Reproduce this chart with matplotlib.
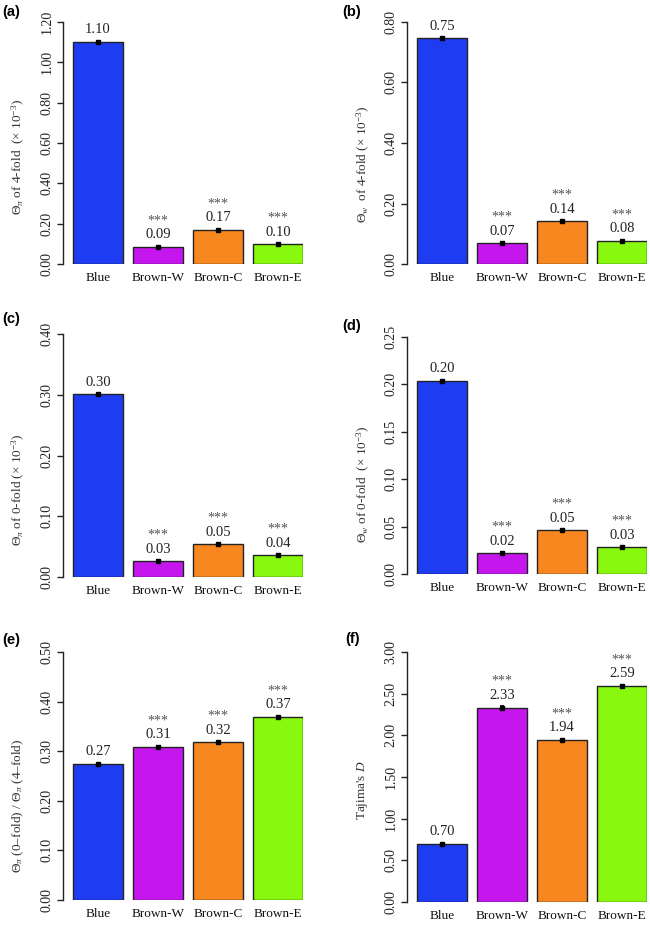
import matplotlib
matplotlib.use("Agg")
import matplotlib.pyplot as plt

plt.rcParams["font.family"] = ["Liberation Serif", "DejaVu Serif"]
plt.rcParams["mathtext.fontset"] = "custom"
plt.rcParams["mathtext.rm"] = "Liberation Serif"
plt.rcParams["mathtext.it"] = "Liberation Serif:italic"
plt.rcParams["mathtext.bf"] = "Liberation Serif:bold"

groups = ["Blue", "Brown-W", "Brown-C", "Brown-E"]
colors = ["#1E3CF2", "#C516EE", "#F8871F", "#88F90E"]

# panel values
pi_4fold = [1.103, 0.086, 0.171, 0.099]
pi_4fold_err = [0.004, 0.004, 0.004, 0.004]
w_4fold = [0.746, 0.068, 0.142, 0.077]
w_4fold_err = [0.003, 0.003, 0.003, 0.003]
pi_0fold = [0.301, 0.026, 0.054, 0.036]
pi_0fold_err = [0.0015, 0.0015, 0.0015, 0.0015]
w_0fold = [0.204, 0.022, 0.046, 0.028]
w_0fold_err = [0.001, 0.001, 0.001, 0.001]
pi_ratio = [0.274, 0.309, 0.318, 0.369]
pi_ratio_err = [0.002, 0.002, 0.002, 0.002]
tajima_d = [0.696, 2.332, 1.940, 2.592]
tajima_d_err = [0.012, 0.015, 0.020, 0.012]

value_labels = {
    "a": ["1.10", "0.09", "0.17", "0.10"],
    "b": ["0.75", "0.07", "0.14", "0.08"],
    "c": ["0.30", "0.03", "0.05", "0.04"],
    "d": ["0.20", "0.02", "0.05", "0.03"],
    "e": ["0.27", "0.31", "0.32", "0.37"],
    "f": ["0.70", "2.33", "1.94", "2.59"],
}
stars = ["", "***", "***", "***"]

W, H = 650, 925
fig = plt.figure(figsize=(W / 100, H / 100), dpi=100)


def add_panel(letter, vals, errs, ymax, ystep, ylabel, box, lab_xy, let_xy):
    x0, y0, y1 = box  # pixel coords: left spine x, top y, bottom y
    ax = fig.add_axes([x0 / W, 1 - y1 / H, 240 / W, (y1 - y0) / H])
    centers = [0.7 + 1.2 * i for i in range(len(vals))]
    ax.bar(centers, vals, width=1.0, color=colors, edgecolor="#222222",
           linewidth=1.0, zorder=2)
    ax.errorbar(centers, vals, yerr=errs, fmt="s", ms=2.5, color="black",
                ecolor="black", elinewidth=1.5, capsize=1.5, capthick=1.2,
                zorder=3)
    ax.set_xlim(0, 4.8)
    ax.set_ylim(0, ymax)
    n = int(round(ymax / ystep))
    ticks = [i * ystep for i in range(n + 1)]
    ax.set_yticks(ticks)
    ax.set_yticklabels([f"{t:.2f}" for t in ticks], rotation=90,
                       va="center", fontsize=10, color="#222222")
    ax.tick_params(axis="y", length=4, width=1.0, pad=3, color="#222222")
    ax.set_xticks(centers)
    ax.set_xticklabels(groups, fontsize=9.5, color="#111111")
    ax.tick_params(axis="x", length=0, pad=6)
    for s in ["top", "right", "bottom"]:
        ax.spines[s].set_visible(False)
    ax.spines["left"].set_linewidth(1.0)
    ax.spines["left"].set_color("#222222")
    ax.patch.set_visible(False)

    for c, v, e, txt, st in zip(centers, vals, errs, value_labels[letter], stars):
        ax.annotate(txt, (c, v + e), xytext=(0, 8), textcoords="offset points",
                    ha="center", va="center", fontsize=10.5, color="#222222",
                    annotation_clip=False)
        if st:
            ax.annotate(st, (c, v + e), xytext=(0, 18), textcoords="offset points",
                        ha="center", va="center", fontsize=10, color="#555555",
                        annotation_clip=False)

    fig.text(lab_xy[0] / W, 1 - lab_xy[1] / H, ylabel, rotation=90,
             ha="center", va="center", fontsize=9.5, color="#333333")
    fig.text(let_xy[0] / W, 1 - let_xy[1] / H, f"({letter})", ha="left",
             va="center", fontsize=10.5, fontweight="bold",
             family=["Liberation Sans", "DejaVu Sans"])
    return ax


th_pi = r"$\mathit{\Theta}_{\pi}$"
th_w = r"$\mathit{\Theta}_{w}$"
times = r"($\times$ 10$^{-3}$)"

add_panel("a", pi_4fold, pi_4fold_err, 1.2, 0.2,
          th_pi + " of 4-fold  " + times, (63, 22, 264), (18, 157), (2, 12))
add_panel("b", w_4fold, w_4fold_err, 0.8, 0.2,
          th_w + "  of 4-fold " + times, (407, 22, 264), (363, 164), (342, 12))
add_panel("c", pi_0fold, pi_0fold_err, 0.4, 0.1,
          th_pi + " of 0-fold " + times, (63, 334, 577), (18, 490), (2, 319))
add_panel("d", w_0fold, w_0fold_err, 0.25, 0.05,
          th_w + " of 0-fold  " + times, (407, 337, 574), (363, 484), (342, 326))
add_panel("e", pi_ratio, pi_ratio_err, 0.5, 0.1,
          th_pi + " (0\u2013fold) / " + th_pi + " (4\u2013fold)",
          (63, 652, 900), (18, 806), (2, 640))
add_panel("f", tajima_d, tajima_d_err, 3.0, 0.5,
          r"Tajima's $\mathit{D}$", (407, 652, 902), (362, 790), (345, 639))

fig.savefig("out.png", dpi=100)
